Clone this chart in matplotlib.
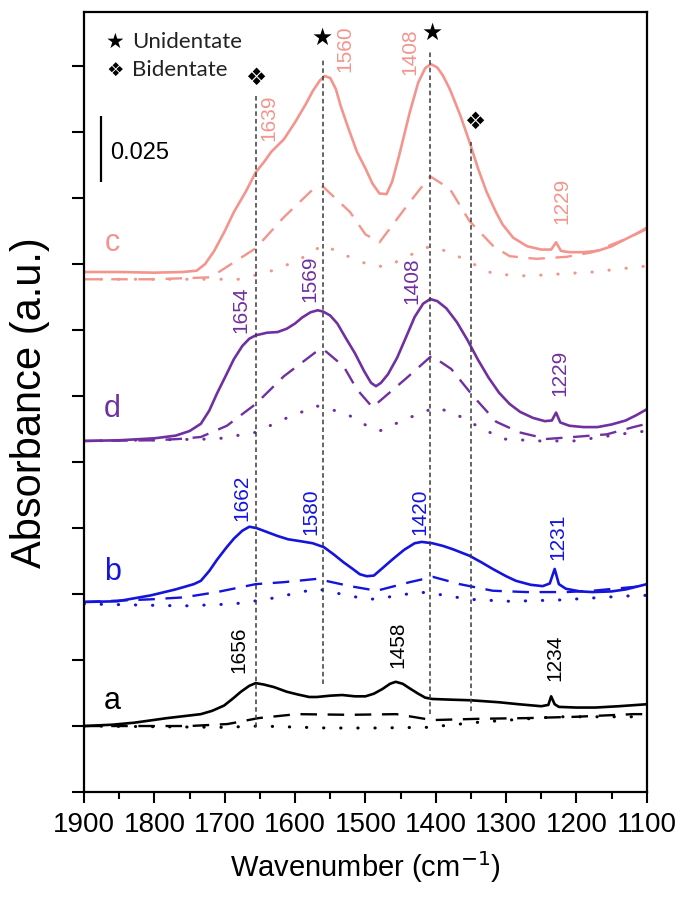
import numpy as np
import matplotlib
matplotlib.use("Agg")
import matplotlib.pyplot as plt

# colours of the four spectra
col_a = "black"
col_b = "#1414DC"
col_c = "#F4958D"
col_d = "#7030A0"

# ---- spectrum a (black) ----
a_w = [1900, 1860, 1829, 1782, 1750, 1734, 1718, 1701, 1688, 1677, 1665, 1656, 1645, 1630,
       1612, 1597, 1580, 1569, 1550, 1533, 1515, 1500, 1488, 1476, 1465, 1457, 1447, 1437,
       1425, 1415, 1405, 1380, 1350, 1310, 1282, 1250, 1240, 1236, 1231, 1225, 1200, 1173,
       1140, 1100]
a_solid = [1.00, 1.02, 1.05, 1.12, 1.16, 1.18, 1.23, 1.31, 1.42, 1.52, 1.61, 1.65, 1.63, 1.59,
           1.52, 1.48, 1.44, 1.44, 1.46, 1.47, 1.45, 1.45, 1.49, 1.56, 1.64, 1.67, 1.64, 1.57,
           1.49, 1.43, 1.41, 1.40, 1.39, 1.36, 1.33, 1.30, 1.32, 1.45, 1.33, 1.29, 1.28, 1.28,
           1.30, 1.33]
a_dash_w = [1900, 1750, 1696, 1652, 1598, 1522, 1456, 1405, 1337, 1271, 1201, 1119, 1100]
a_dash = [1.00, 1.00, 1.03, 1.12, 1.18, 1.17, 1.18, 1.09, 1.11, 1.12, 1.14, 1.18, 1.18]
a_dot_w = [1900, 1701, 1652, 1554, 1489, 1413, 1337, 1228, 1119, 1100]
a_dot = [1.00, 0.98, 1.00, 0.97, 0.97, 0.98, 1.06, 1.14, 1.14, 1.14]

# ---- spectrum b (blue) ----
b_w = [1900, 1853, 1805, 1770, 1744, 1734, 1722, 1711, 1698, 1687, 1675, 1665, 1655, 1640,
       1625, 1610, 1592, 1575, 1559, 1545, 1531, 1518, 1508, 1498, 1488, 1475, 1461, 1445,
       1430, 1420, 1405, 1390, 1376, 1352, 1335, 1319, 1300, 1286, 1265, 1248, 1238, 1231,
       1225, 1215, 1195, 1177, 1150, 1130, 1115, 1100]
b_solid = [2.88, 2.89, 2.98, 3.07, 3.15, 3.20, 3.35, 3.52, 3.70, 3.84, 3.96, 4.02, 4.00, 3.94,
           3.88, 3.83, 3.80, 3.77, 3.71, 3.60, 3.48, 3.38, 3.30, 3.27, 3.28, 3.40, 3.53, 3.67,
           3.77, 3.79, 3.77, 3.73, 3.68, 3.58, 3.48, 3.38, 3.27, 3.20, 3.14, 3.12, 3.16, 3.38,
           3.15, 3.08, 3.04, 3.03, 3.04, 3.07, 3.11, 3.15]
b_dash_w = [1900, 1805, 1758, 1711, 1656, 1616, 1569, 1522, 1484, 1437, 1404, 1366, 1319,
            1271, 1214, 1177, 1106, 1100]
b_dash = [2.88, 2.92, 2.95, 3.03, 3.15, 3.18, 3.23, 3.12, 3.05, 3.18, 3.26, 3.15, 3.05,
          3.03, 3.03, 3.05, 3.12, 3.12]
b_dot_w = [1900, 1758, 1687, 1640, 1569, 1522, 1493, 1470, 1423, 1399, 1352, 1295, 1224,
           1130, 1100]
b_dot = [2.85, 2.82, 2.85, 2.92, 3.08, 2.97, 2.92, 2.95, 3.03, 3.00, 2.92, 2.89, 2.91,
         2.97, 2.98]

# ---- spectrum d (purple) ----
d_w = [1900, 1850, 1800, 1770, 1750, 1734, 1722, 1711, 1698, 1687, 1675, 1665, 1656, 1640,
       1625, 1612, 1600, 1590, 1578, 1568, 1560, 1550, 1540, 1528, 1515, 1502, 1492, 1485,
       1478, 1468, 1455, 1442, 1430, 1418, 1408, 1398, 1385, 1370, 1355, 1340, 1325, 1310,
       1295, 1280, 1262, 1245, 1235, 1229, 1223, 1210, 1190, 1170, 1150, 1130, 1115, 1100]
d_solid = [5.32, 5.33, 5.36, 5.40, 5.47, 5.58, 5.78, 6.04, 6.32, 6.56, 6.76, 6.87, 6.92, 6.96,
           6.97, 7.02, 7.10, 7.19, 7.27, 7.30, 7.28, 7.22, 7.10, 6.88, 6.65, 6.38, 6.20, 6.15,
           6.20, 6.33, 6.58, 6.90, 7.20, 7.40, 7.47, 7.44, 7.33, 7.12, 6.85, 6.55, 6.28, 6.05,
           5.88, 5.76, 5.67, 5.62, 5.63, 5.75, 5.60, 5.55, 5.53, 5.53, 5.57, 5.63, 5.71, 5.80]
d_dash_w = [1900, 1800, 1765, 1734, 1697, 1656, 1616, 1569, 1560, 1531, 1512, 1490, 1443,
            1406, 1378, 1347, 1314, 1281, 1242, 1204, 1157, 1119, 1100]
d_dash = [5.32, 5.33, 5.35, 5.38, 5.55, 5.88, 6.30, 6.68, 6.71, 6.45, 6.10, 5.83, 6.26,
          6.61, 6.41, 6.00, 5.61, 5.45, 5.35, 5.38, 5.42, 5.53, 5.58]
d_dot_w = [1900, 1711, 1656, 1616, 1569, 1536, 1522, 1498, 1480, 1443, 1400, 1372, 1347,
           1305, 1252, 1204, 1119, 1100]
d_dot = [5.32, 5.35, 5.45, 5.65, 5.85, 5.76, 5.70, 5.55, 5.47, 5.65, 5.83, 5.73, 5.58,
         5.35, 5.32, 5.32, 5.45, 5.47]

# ---- spectrum c (salmon) ----
c_w = [1900, 1850, 1800, 1760, 1740, 1728, 1715, 1700, 1687, 1670, 1656, 1644, 1634, 1616,
       1600, 1585, 1575, 1565, 1558, 1550, 1542, 1535, 1524, 1512, 1500, 1490, 1480, 1470,
       1462, 1452, 1437, 1425, 1415, 1407, 1398, 1390, 1380, 1365, 1352, 1340, 1328, 1315,
       1305, 1290, 1270, 1250, 1236, 1229, 1222, 1210, 1190, 1170, 1150, 1130, 1115, 1100]
c_solid = [7.88, 7.88, 7.87, 7.88, 7.90, 8.00, 8.20, 8.50, 8.79, 9.10, 9.39, 9.55, 9.70, 9.89,
           10.15, 10.42, 10.62, 10.78, 10.85, 10.82, 10.65, 10.39, 10.05, 9.70, 9.45, 9.22,
           9.07, 9.06, 9.25, 9.65, 10.30, 10.75, 10.97, 11.03, 10.98, 10.86, 10.65, 10.25,
           9.85, 9.45, 9.10, 8.80, 8.60, 8.40, 8.27, 8.22, 8.22, 8.33, 8.20, 8.18, 8.18, 8.20,
           8.27, 8.38, 8.46, 8.55]
c_dash_w = [1900, 1800, 1720, 1656, 1616, 1573, 1560, 1522, 1500, 1480, 1437, 1408, 1380,
            1352, 1318, 1295, 1257, 1214, 1177, 1130, 1100]
c_dash = [7.77, 7.77, 7.80, 8.24, 8.71, 9.15, 9.17, 8.79, 8.45, 8.33, 8.94, 9.33, 9.14,
          8.65, 8.27, 8.12, 8.08, 8.11, 8.18, 8.38, 8.53]
c_dot_w = [1900, 1700, 1678, 1626, 1592, 1560, 1530, 1493, 1470, 1428, 1408, 1380, 1352,
           1318, 1271, 1224, 1177, 1119, 1100]
c_dot = [7.77, 7.77, 7.77, 7.92, 8.08, 8.29, 8.14, 7.98, 7.96, 8.18, 8.27, 8.18, 8.03,
         7.85, 7.82, 7.85, 7.88, 7.95, 7.97]

# peak labels: (wavenumber, y, text)
peak_labels = {
    col_a: [(1680, 2.17, "1656"), (1454, 2.24, "1458"), (1231, 2.05, "1234")],
    col_b: [(1676, 4.48, "1662"), (1578, 4.27, "1580"), (1423, 4.26, "1420"), (1227, 3.88, "1231")],
    col_d: [(1677, 7.32, "1654"), (1579, 7.80, "1569"), (1434, 7.77, "1408"), (1224, 6.36, "1229")],
    col_c: [(1637, 10.24, "1639"), (1529, 11.28, "1560"), (1437, 11.24, "1408"), (1221, 8.98, "1229")],
}
curve_names = [("a", 1.39, col_a), ("b", 3.35, col_b), ("d", 5.82, col_d), ("c", 8.33, col_c)]

# assignment guide lines: position, bottom, top
guide_x = [1656, 1560, 1408, 1350]
guide_lo = [0.98, 1.64, 1.18, 1.23]
guide_hi = [10.6, 11.1, 11.23, 9.85]

plt.rcParams["font.family"] = ["Liberation Sans", "DejaVu Sans"]

fig = plt.figure(figsize=(6.78, 9.03), dpi=100)
ax = fig.add_axes([0.124, 0.1218, 0.83, 0.8638])

dash_style = (0, (7, 4.5))
dot_style = (0, (0.1, 5.5))

for w, s, dw, dv, tw, tv, col in [
    (a_w, a_solid, a_dash_w, a_dash, a_dot_w, a_dot, col_a),
    (b_w, b_solid, b_dash_w, b_dash, b_dot_w, b_dot, col_b),
    (d_w, d_solid, d_dash_w, d_dash, d_dot_w, d_dot, col_d),
    (c_w, c_solid, c_dash_w, c_dash, c_dot_w, c_dot, col_c),
]:
    ax.plot(w, s, color=col, lw=1.9, solid_joinstyle="round")
    ax.plot(dw, dv, color=col, lw=1.7, linestyle=dash_style)
    ax.plot(tw, tv, color=col, lw=2.2, linestyle=dot_style, dash_capstyle="round")

for x, lo, hi in zip(guide_x, guide_lo, guide_hi):
    ax.vlines(x, lo, hi, colors="#3a3a3a", lw=1.1, linestyles=(0, (3, 2)))

for col, labs in peak_labels.items():
    for x, y, t in labs:
        ax.text(x, y, t, color=col, rotation=90, ha="center", va="center", fontsize=15)

for name, y, col in curve_names:
    ax.text(1860, y, name, color=col, ha="center", va="center", fontsize=22)

# unidentate / bidentate markers
sym_font = ["DejaVu Sans"]
ax.text(1562, 11.44, "\u2605", ha="center", va="center", fontsize=17, family=sym_font)
ax.text(1406, 11.52, "\u2605", ha="center", va="center", fontsize=17, family=sym_font)
ax.text(1656, 10.83, "\u2756", ha="center", va="center", fontsize=17, family=sym_font)
ax.text(1345, 10.17, "\u2756", ha="center", va="center", fontsize=17, family=sym_font)

# key
ax.text(1856, 11.38, "\u2605", ha="center", va="center", fontsize=15, family=sym_font)
ax.text(1856, 10.95, "\u2756", ha="center", va="center", fontsize=14, family=sym_font)
ax.text(1832, 11.38, "Unidentate", ha="left", va="center", fontsize=16,
        family=["Lato", "DejaVu Sans"], color="#222222")
ax.text(1832, 10.95, "Bidentate", ha="left", va="center", fontsize=16,
        family=["Lato", "DejaVu Sans"], color="#222222")

# scale bar
ax.vlines(1876, 9.25, 10.25, colors="black", lw=1.6)
ax.text(1863, 9.70, "0.025", ha="left", va="center", fontsize=17)

ax.set_xlim(1900, 1100)
ax.set_ylim(0, 11.82)
ax.set_xticks(np.arange(1900, 1099, -100))
ax.set_xticks(np.arange(1850, 1100, -100), minor=True)
ax.set_yticks(np.arange(0, 12, 1))
ax.set_yticklabels([])
ax.tick_params(axis="x", which="major", direction="out", length=8, width=1.5, labelsize=20, pad=6)
ax.tick_params(axis="x", which="minor", direction="out", length=5, width=1.5)
ax.tick_params(axis="y", which="major", direction="out", length=9, width=1.5)
for sp in ax.spines.values():
    sp.set_linewidth(1.6)

ax.set_xlabel("Wavenumber (cm$^{-1}$)", fontsize=21, labelpad=8)
ax.set_ylabel("Absorbance (a.u.)", fontsize=30, labelpad=12)

fig.savefig("out.png", dpi=100)
